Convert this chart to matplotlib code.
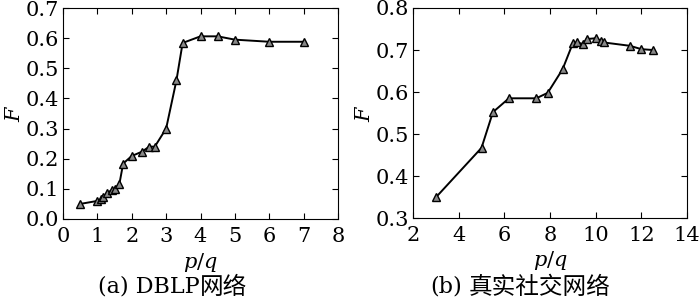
import numpy as np
import matplotlib
matplotlib.use('Agg')
import matplotlib.pyplot as plt

plt.rcParams['font.family'] = ['DejaVu Serif', 'Noto Sans CJK SC']
plt.rcParams['mathtext.fontset'] = 'dejavuserif'

# (a) DBLP network
pq_a = [0.5, 1.0, 1.1, 1.17, 1.27, 1.42, 1.51, 1.64, 1.75, 2.0, 2.29, 2.51, 2.67,
        3.0, 3.3, 3.48, 4.0, 4.5, 5.0, 6.0, 7.0]
f_a = [0.05, 0.06, 0.065, 0.074, 0.085, 0.096, 0.10, 0.116, 0.184, 0.209, 0.223, 0.24, 0.24,
       0.30, 0.46, 0.584, 0.606, 0.606, 0.595, 0.588, 0.588]

# (b) real social network
pq_b = [3.0, 5.0, 5.5, 6.2, 7.4, 7.9, 8.55, 9.0, 9.2, 9.45, 9.6, 10.0, 10.25, 10.35,
        11.5, 12.0, 12.5]
f_b = [0.349, 0.467, 0.552, 0.585, 0.585, 0.598, 0.654, 0.716, 0.718, 0.714, 0.726,
       0.728, 0.722, 0.718, 0.71, 0.702, 0.70]

# captions split into latin part / chinese part
cap_latin = ['(a) DBLP', '(b)']
cap_cjk = ['网络', '真实社交网络']

fig = plt.figure(figsize=(7.0, 2.99), dpi=100)
ax1 = fig.add_axes([63/700, 1-219/299, 275/700, 211/299])
ax2 = fig.add_axes([413/700, 1-218/299, 274/700, 210/299])

for ax, x, y in [(ax1, pq_a, f_a), (ax2, pq_b, f_b)]:
    ax.plot(x, y, '-', color='black', lw=1.4, marker='^', ms=6,
            mfc='#888888', mec='black', mew=1.0)
    ax.tick_params(direction='in', top=True, right=True, labelsize=15, length=4)
    ax.tick_params(axis='x', pad=6)
    ax.tick_params(axis='y', pad=3)
    ax.set_xlabel('$p/q$', fontsize=15, labelpad=3)
    ax.set_ylabel('$F$', fontsize=15, labelpad=1)

ax1.set_xlim(0, 8)
ax1.set_ylim(0, 0.7)
ax1.set_xticks(np.arange(0, 9, 1))
ax1.set_yticks(np.arange(0, 0.71, 0.1))
ax1.set_yticklabels(['%.1f' % v for v in np.arange(0, 0.71, 0.1)])

ax2.set_xlim(2, 14)
ax2.set_ylim(0.3, 0.8)
ax2.set_xticks(np.arange(2, 15, 2))
ax2.set_yticks(np.arange(0.3, 0.81, 0.1))
ax2.set_yticklabels(['%.1f' % v for v in np.arange(0.3, 0.81, 0.1)])

# where latin part ends / chinese part starts, in pixels
latin_end = [200, 462]
cjk_start = [200, 469]
for le, cs, lat, cjk in zip(latin_end, cjk_start, cap_latin, cap_cjk):
    fig.text(le/700, 1-287/299, lat, ha='right', va='center', fontsize=16,
             family='DejaVu Serif')
    fig.text(cs/700, 1-287/299, cjk, ha='left', va='center', fontsize=17,
             family='Noto Sans CJK SC')

fig.savefig('out.png', dpi=100)
